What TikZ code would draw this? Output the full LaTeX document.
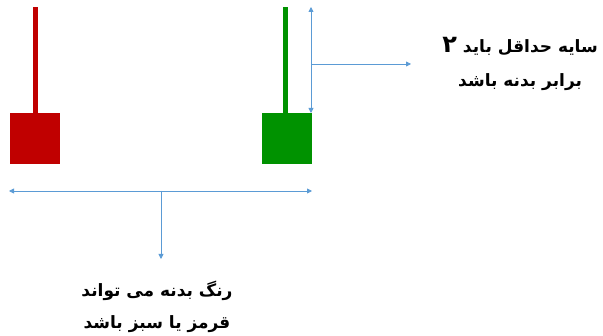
\documentclass[tikz,border=0pt]{standalone}
\usepackage{fontspec}
\usetikzlibrary{arrows.meta}
\TeXXeTstate=1
\newfontfamily\arabicfont[Script=Arabic]{DejaVu Sans}
\definecolor{cred}{RGB}{192,0,0}
\definecolor{cgreen}{RGB}{0,146,0}
\definecolor{cblue}{RGB}{91,155,213}
\begin{document}
\begin{tikzpicture}[x=1pt,y=-1pt,
  body/.style={draw=none,minimum width=50pt,minimum height=51pt,inner sep=0pt},
  wick/.style={line width=5pt},
  conn/.style={draw=cblue,line width=0.8pt},
  tip/.style={-{Triangle[length=5pt,width=5pt]}},
  dtip/.style={{Triangle[length=5pt,width=5pt]}-{Triangle[length=5pt,width=5pt]}},
  lbl/.style={font=\arabicfont\bfseries\fontsize{17}{32}\selectfont,align=center,inner sep=0pt}]
\useasboundingbox (0,0) rectangle (603,336);
\node[body,fill=cred] (rb) at (35,138.5) {};
\node[body,fill=cgreen] (gb) at (287,138.5) {};
\coordinate (rt) at (35,7);
\coordinate (gt) at (285,7);
\draw[wick,cred] (rb.north -| rt) -- (rt);
\draw[wick,cgreen] (gb.north -| gt) -- (gt);
% shadow measure arrow
\coordinate (st) at (311,7);
\coordinate (sb) at (311,113);
\coordinate (sm) at (311,64);
\draw[conn,dtip] (sb) -- (st);
\node[lbl,anchor=east] (t1) at (598,64) {\beginR سایه حداقل باید {\fontsize{24}{32}\selectfont ۲}\endR\\[2pt]\beginR برابر بدنه باشد\endR};
\coordinate (se) at (411,64);
\draw[conn,tip] (sm) -- (se);
% body width arrow
\coordinate (hl) at (9,191);
\coordinate (hr) at (312,191);
\coordinate (hm) at (161,191);
\draw[conn,dtip] (hl) -- (hr);
\node[lbl] (t2) at (157,307) {\beginR رنگ بدنه می تواند\endR\\\beginR قرمز یا سبز باشد\endR};
\coordinate (hd) at (161,259);
\draw[conn,tip] (hm) -- (hd);
\end{tikzpicture}
\end{document}
